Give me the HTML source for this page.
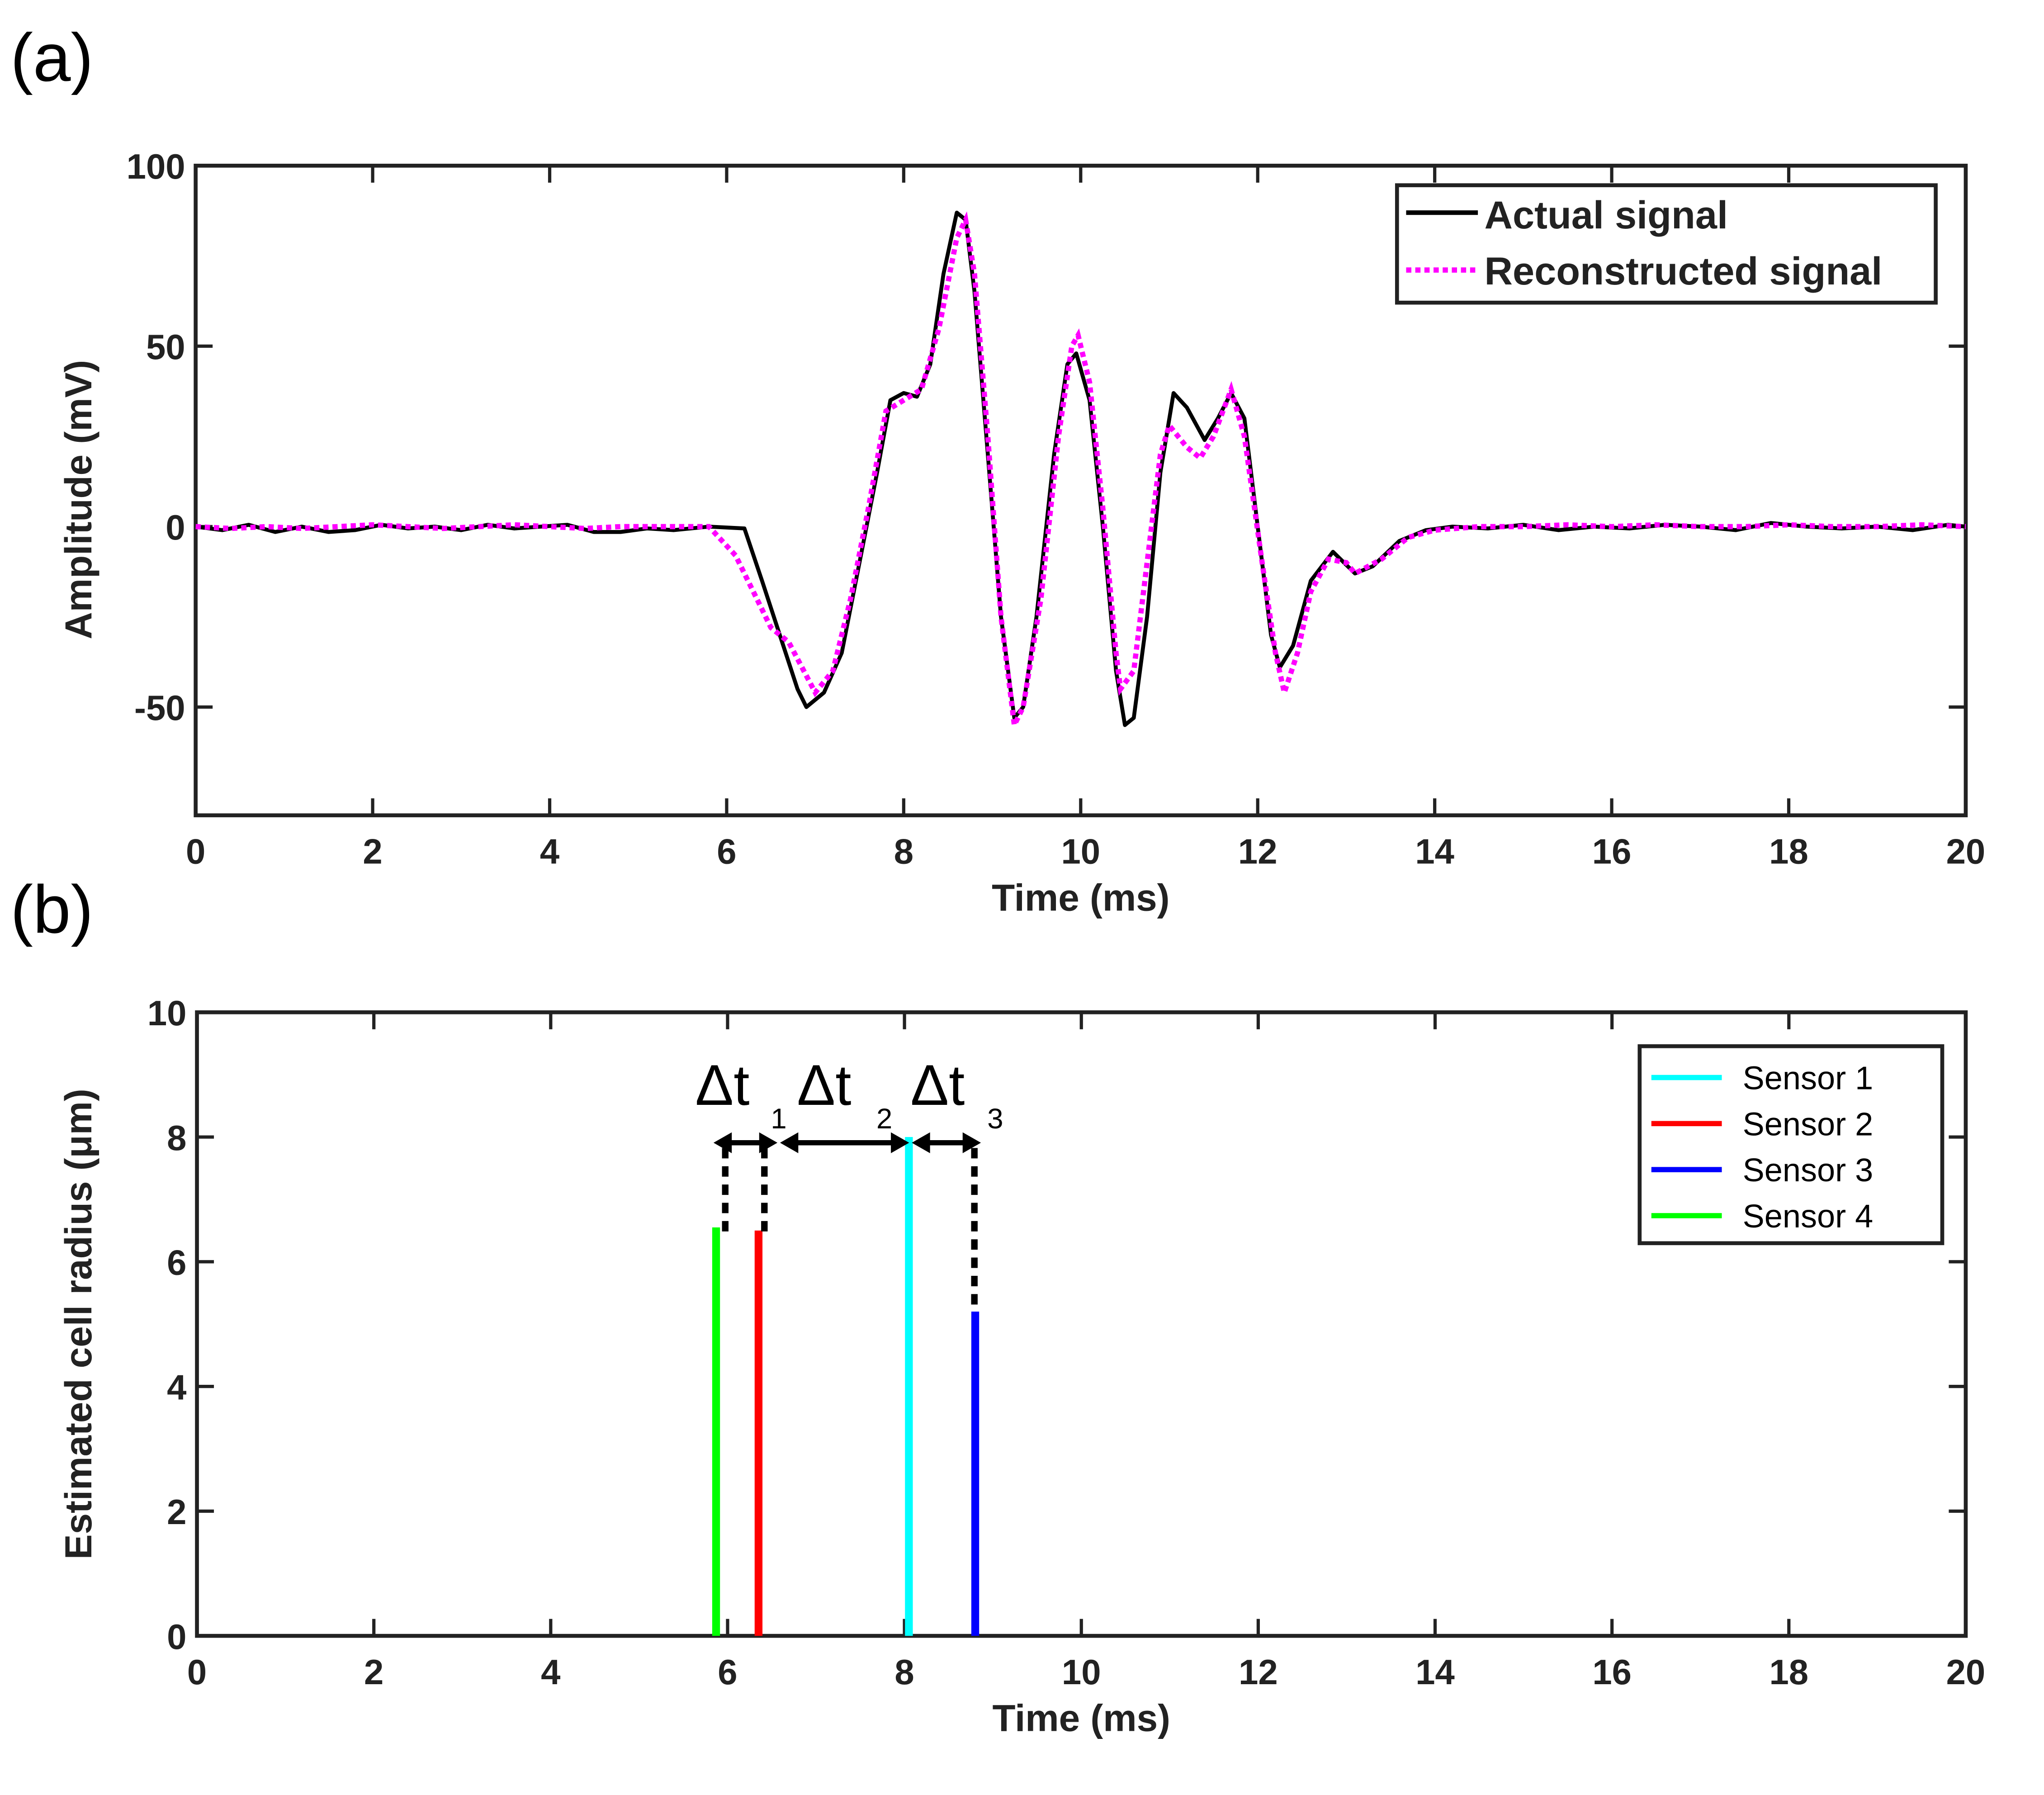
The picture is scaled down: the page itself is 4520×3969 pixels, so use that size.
<!DOCTYPE html>
<html><head><meta charset="utf-8"><style>
html,body{margin:0;padding:0;background:#fff;}
svg{display:block;font-family:"Liberation Sans",sans-serif;}
</style></head><body>
<svg id="fig" width="4520" height="3969" viewBox="0 0 1567 1376" preserveAspectRatio="none" xmlns="http://www.w3.org/2000/svg">
<text x="8" y="62" font-size="52">(a)</text>
<text x="8" y="715" font-size="52">(b)</text>
<g id="ga"></g>
<g id="gb"></g>
</svg>
<script>
const NS="http://www.w3.org/2000/svg";
const xTicks=[0,2,4,6,8,10,12,14,16,18,20];
const yTicksA=[-50,0,50,100];
const yTicksB=[0,2,4,6,8,10];
const actualT=[0,0.3,0.6,0.9,1.2,1.5,1.8,2.1,2.4,2.7,3.0,3.3,3.6,3.9,4.2,4.5,4.8,5.1,5.4,5.8,6.2,6.4,6.6,6.8,6.9,7.1,7.3,7.5,7.7,7.85,8.0,8.15,8.3,8.45,8.6,8.7,8.8,8.95,9.1,9.25,9.35,9.5,9.7,9.85,9.95,10.1,10.25,10.4,10.5,10.6,10.75,10.9,11.05,11.2,11.4,11.55,11.7,11.85,12.0,12.15,12.25,12.4,12.6,12.85,13.1,13.3,13.6,13.9,14.2,14.6,15.0,15.4,15.8,16.2,16.6,17.0,17.4,17.8,18.2,18.6,19.0,19.4,19.8,20];
const actualV=[0,-1,0.5,-1.5,0,-1.5,-1,0.5,-0.5,0,-1,0.5,-0.5,0,0.5,-1.5,-1.5,-0.5,-1,0,-0.5,-15,-30,-45,-50,-46,-35,-10,15,35,37,36,45,70,87,85,65,20,-25,-53,-50,-25,20,45,48,35,0,-40,-55,-53,-25,15,37,33,24,30,37,30,0,-30,-39,-33,-15,-7,-13,-11,-4,-1,0,-0.5,0.5,-1,0,-0.5,0.5,0,-1,1,0,-0.5,0,-1,0.5,0];
const reconT=[0,0.4,0.8,1.2,1.6,2.0,2.4,2.8,3.2,3.6,4.0,4.4,4.8,5.2,5.6,5.8,6.1,6.3,6.5,6.7,7.0,7.2,7.4,7.6,7.8,8.0,8.2,8.4,8.6,8.7,8.8,8.95,9.1,9.25,9.35,9.55,9.75,9.9,9.97,10.1,10.25,10.4,10.45,10.6,10.75,10.9,11.0,11.2,11.35,11.5,11.7,11.85,12.05,12.2,12.3,12.45,12.6,12.8,13.0,13.1,13.4,13.7,14.0,14.5,15,15.5,16,16.5,17,17.5,18,18.5,19,19.5,20];
const reconV=[0,-0.5,0,-0.5,0,0.5,0,-0.5,0,0.5,0,-0.5,0,0,0,0,-8,-18,-28,-32,-46,-40,-20,5,32,35,38,55,80,85,70,25,-25,-55,-50,-20,25,50,53,40,5,-35,-45,-40,-10,20,28,22,19,25,38,25,-10,-35,-46,-35,-18,-9,-10,-13,-9,-3,-1,0,0,0.5,0,0.5,0,0,0.5,0,0,0.5,0];
const sensorNames=["Sensor 1","Sensor 2","Sensor 3","Sensor 4"];
const sensorTimes=[8.05,6.35,8.8,5.87];
const sensorRadii=[8.0,6.5,5.2,6.55];
const sensorColors=["#00ffff","#ff0000","#0000ff","#00ff00"];

function el(tag,attrs,parent){const e=document.createElementNS(NS,tag);for(const k in attrs)e.setAttribute(k,attrs[k]);parent.appendChild(e);return e;}
function txt(parent,x,y,s,size,anchor,weight){const t=el("text",{x:x,y:y,"font-size":size,"text-anchor":anchor||"middle","font-weight":weight||"bold",fill:"#222"},parent);t.textContent=s;return t;}

function axes(g,L,R,T,B,ymin,ymax,yT,xTitle,yTitle,yTitleY){
  const sx=v=>L+(v-0)/(20-0)*(R-L);
  const sy=v=>B-(v-ymin)/(ymax-ymin)*(B-T);
  const fr=el("rect",{x:L,y:T,width:R-L,height:B-T,fill:"none",stroke:"#222","stroke-width":3},g);
  
  
  xTicks.forEach(v=>{
    const x=sx(v);
    el("line",{x1:x,y1:B,x2:x,y2:B-13,stroke:"#222","stroke-width":2.5},g);
    el("line",{x1:x,y1:T,x2:x,y2:T+13,stroke:"#222","stroke-width":2.5},g);
    const t=txt(g,x,B+37,String(v),27);
    
    
  });
  yT.forEach(v=>{
    const y=sy(v);
    el("line",{x1:L,y1:y,x2:L+13,y2:y,stroke:"#222","stroke-width":2.5},g);
    el("line",{x1:R,y1:y,x2:R-13,y2:y,stroke:"#222","stroke-width":2.5},g);
    const t=txt(g,L-8,y+10,String(v),27,"end");
    
    
  });
  const xt=txt(g,(L+R)/2,B+73,xTitle,29);
  
  
  const yt=txt(g,0,0,yTitle,29);
  yt.setAttribute("transform","translate(70,"+yTitleY+") rotate(-90)");
  
  
  return {sx,sy};
}

// Chart A
const ga=document.getElementById("ga");
const A=axes(ga,150,1507,127,625,-80,100,yTicksA,"Time (ms)","Amplitude (mV)",383);
function pathOf(ts,vs,s){return ts.map((t,i)=>(i?"L":"M")+s.sx(t).toFixed(1)+" "+s.sy(vs[i]).toFixed(1)).join(" ");}
const pa=el("path",{d:pathOf(actualT,actualV,A),fill:"none",stroke:"#000","stroke-width":3,"stroke-linejoin":"round"},ga);


const pr=el("path",{d:pathOf(reconT,reconV,A),fill:"none",stroke:"#ff00ff","stroke-width":4,"stroke-dasharray":"4 3"},ga);


const la=el("g",{},ga);


el("rect",{x:1071,y:142,width:413,height:90,fill:"#fff",stroke:"#222","stroke-width":3},la);
el("line",{x1:1078,y1:163,x2:1133,y2:163,stroke:"#000","stroke-width":3.5},la);
el("line",{x1:1078,y1:207,x2:1133,y2:207,stroke:"#ff00ff","stroke-width":4,"stroke-dasharray":"4 3"},la);
const l1=txt(la,1138,175,"Actual signal",30,"start");


const l2=txt(la,1138,218,"Reconstructed signal",30,"start");



// Chart B
const gb=document.getElementById("gb");
const Bx=axes(gb,151,1507,776,1254,0,10,yTicksB,"Time (ms)","Estimated cell radius (\u03bcm)",1015);
sensorTimes.forEach((t,i)=>{
  const x=Bx.sx(t);
  const s=el("line",{x1:x,y1:Bx.sy(0),x2:x,y2:Bx.sy(sensorRadii[i]),stroke:sensorColors[i],"stroke-width":6},gb);
  
  
});
const ann=el("g",{},gb);


[[556,945],[586,950],[747,1003]].forEach(d=>el("line",{x1:d[0],y1:880,x2:d[0],y2:d[1],stroke:"#000","stroke-width":5,"stroke-dasharray":"8 6"},ann));
function arrow(x1,x2,y){
  el("line",{x1:x1+10,y1:y,x2:x2-10,y2:y,stroke:"#000","stroke-width":4},ann);
  el("polygon",{points:`${x1},${y} ${x1+14},${y-8} ${x1+14},${y+8}`,fill:"#000"},ann);
  el("polygon",{points:`${x2},${y} ${x2-14},${y-8} ${x2-14},${y+8}`,fill:"#000"},ann);
}
arrow(547,596,876);arrow(598,697,876);arrow(699,752,876);
[[533,847,597,865,"1"],[611,847,678,865,"2"],[698,847,763,865,"3"]].forEach(a=>{
  const t=txt(ann,a[0],a[1],"\u0394t",44,"start","normal");t.setAttribute("fill","#000");
  const s=txt(ann,a[2],a[3],a[4],22,"middle","normal");s.setAttribute("fill","#000");
});
const lb=el("g",{},gb);


el("rect",{x:1257,y:802,width:232,height:151,fill:"#fff",stroke:"#222","stroke-width":3},lb);
sensorNames.forEach((n,i)=>{
  const y=826+i*35.3;
  el("line",{x1:1266,y1:y,x2:1320,y2:y,stroke:sensorColors[i],"stroke-width":4},lb);
  const t=txt(lb,1336,y+9,n,25,"start","normal");
  t.setAttribute("fill","#000");
  
  
});
</script>
</body></html>
